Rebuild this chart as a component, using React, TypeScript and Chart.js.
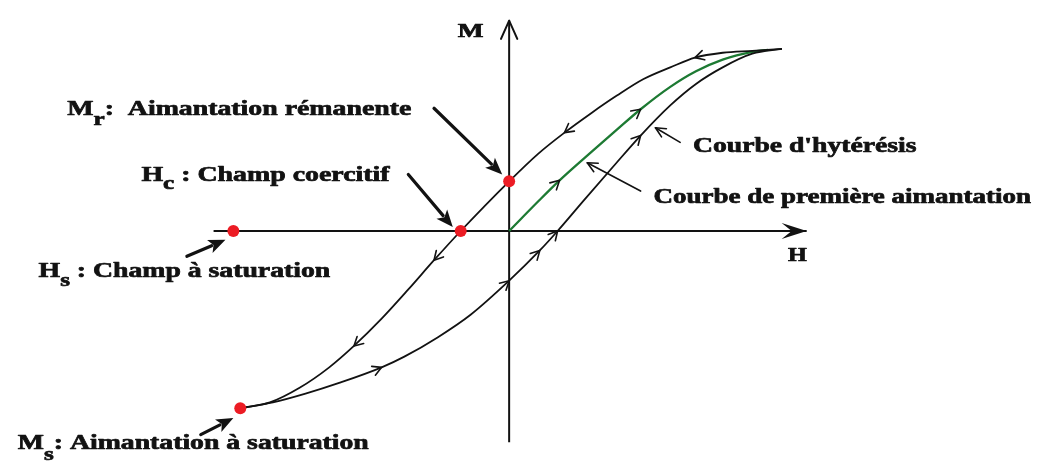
import React, { useEffect, useRef } from 'react';
import { Chart, registerables } from 'chart.js';
Chart.register(...registerables);

// Field H and magnetisation M, arbitrary units, origin where the axes cross
const UPPER_H = [-272, -242, -212, -182, -157, -129, -102, -76, -49, 0, 29, 56, 83, 109, 136, 163, 188, 216, 246, 276];
const UPPER_M = [-182, -176, -161, -140, -118, -90, -60, -30, 0, 51, 79, 101, 121, 139, 156, 168, 178, 183, 185, 187];
const LOWER_H = [-272, -239, -206, -172, -129, -106, -72, -39, 0, 31, 49, 76, 106, 133, 163, 189, 216, 246, 276];
const LOWER_M = [-182, -176, -167, -156, -140, -129, -109, -86, -51, -20, 0, 32, 67, 98, 129, 151, 168, 182, 187];
const FIRST_H = [0, 29, 51, 83, 109, 133, 163, 189, 216, 246, 262];
const FIRST_M = [0, 30, 52, 81, 104, 125, 148, 164, 176, 184, 186];
// Hs, Hc, Mr, Ms
const KEY_H = [-279, -49, 0, -272];
const KEY_M = [0, 0, 51, -182];
const AXIS_H_RANGE = [-299, 301];
const AXIS_M_RANGE = [-217, 216];
// where the small direction arrows sit on each curve (H values)
const UPPER_ARROWS_H = [188, 56, -76, -157];
const LOWER_ARROWS_H = [-129, 0, 31, 49, 133];
const FIRST_ARROWS_H = [51, 133];

const X_MIN = -509, X_MAX = 534, Y_MIN = -231, Y_MAX = 231;
const FONT = '"Liberation Serif", "Times New Roman", serif';
const INK = '#121212';
const RED = '#ec1c24';
const GREEN = '#1d7a33';

type Part = [string, number, number];
const LABELS: { h: number; m: number; endH: number; parts: Part[] }[] = [
  { h: -447, m: 119, endH: -99, parts: [['M', 21, 0], ['r', 19, 10], [':  Aimantation rémanente', 21, 0]] },
  { h: -372, m: 51, endH: -121, parts: [['H', 21, 0], ['c', 19, 8], [' : Champ coercitif', 21, 0]] },
  { h: -476, m: -47, endH: -181, parts: [['H', 21, 0], ['s', 19, 9], [' : Champ à saturation', 21, 0]] },
  { h: -497, m: -224, endH: -142, parts: [['M', 21, 0], ['s', 19, 11], [': Aimantation à saturation', 21, 0]] },
  { h: 186, m: 81, endH: 412, parts: [["Courbe d'hytérésis", 21, 0]] },
  { h: 146, m: 29, endH: 528, parts: [['Courbe de première aimantation', 21, 0]] },
  { h: -52, m: 199, endH: -26, parts: [['M', 19, 0]] },
  { h: 282, m: -31, endH: 301, parts: [['H', 19, 0]] },
];

const POINTERS = [
  { from: [-76, 126], to: [-7, 58], heavy: true },
  { from: [-102, 58], to: [-57, 4], heavy: true },
  { from: [-326, -26], to: [-287, -9], heavy: true },
  { from: [-312, -209], to: [-279, -192], heavy: true },
  { from: [173, 91], to: [148, 106], heavy: false },
  { from: [133, 41], to: [79, 70], heavy: false },
];

const pts = (hs: number[], ms: number[]) => hs.map((h, i) => ({ x: h, y: ms[i] }));

function chevron(ctx: CanvasRenderingContext2D, x: number, y: number, ang: number, len: number, spread: number) {
  ctx.beginPath();
  ctx.moveTo(x - len * Math.cos(ang - spread), y - len * Math.sin(ang - spread));
  ctx.lineTo(x, y);
  ctx.lineTo(x - len * Math.cos(ang + spread), y - len * Math.sin(ang + spread));
  ctx.stroke();
}

const decorPlugin = {
  id: 'decor',
  afterDatasetsDraw(chart: any) {
    const ctx: CanvasRenderingContext2D = chart.ctx;
    const sx = chart.scales.x, sy = chart.scales.y;
    const px = (h: number) => sx.getPixelForValue(h);
    const py = (m: number) => sy.getPixelForValue(m);
    ctx.save();
    ctx.lineCap = 'round';
    ctx.lineJoin = 'round';

    // direction arrows on curves
    const specs = [
      { ds: 1, hs: UPPER_ARROWS_H, dir: -1, color: INK },
      { ds: 2, hs: LOWER_ARROWS_H, dir: 1, color: INK },
      { ds: 3, hs: FIRST_ARROWS_H, dir: 1, color: INK },
    ];
    for (const s of specs) {
      const meta = chart.getDatasetMeta(s.ds);
      const data = chart.data.datasets[s.ds].data as { x: number; y: number }[];
      for (const h of s.hs) {
        const j = data.findIndex((d) => d.x === h);
        if (j < 0) continue;
        const el: any = meta.data[j];
        let dx: number, dy: number;
        if (el.cp1x !== undefined && el.cp2x !== undefined) {
          dx = el.cp2x - el.cp1x; dy = el.cp2y - el.cp1y;
        } else {
          const a: any = meta.data[Math.max(0, j - 1)], b: any = meta.data[Math.min(meta.data.length - 1, j + 1)];
          dx = b.x - a.x; dy = b.y - a.y;
        }
        const ang = Math.atan2(dy * s.dir, dx * s.dir);
        ctx.strokeStyle = s.color;
        ctx.lineWidth = 1.6;
        chevron(ctx, el.x, el.y, ang, 10, 0.5);
      }
    }

    // axis arrowheads
    ctx.strokeStyle = INK;
    ctx.fillStyle = INK;
    ctx.lineWidth = 2;
    const mx = px(0), my = py(AXIS_M_RANGE[1]);
    chevron(ctx, mx, my, -Math.PI / 2, 20, 0.42);
    const hx = px(AXIS_H_RANGE[1]), hy = py(0);
    ctx.beginPath();
    ctx.moveTo(hx, hy);
    ctx.lineTo(hx - 25, hy - 8);
    ctx.lineTo(hx - 15, hy);
    ctx.lineTo(hx - 25, hy + 8);
    ctx.closePath();
    ctx.fill();

    // pointer arrows
    for (const p of POINTERS) {
      const x1 = px(p.from[0]), y1 = py(p.from[1]);
      const x2 = px(p.to[0]), y2 = py(p.to[1]);
      const ang = Math.atan2(y2 - y1, x2 - x1);
      if (p.heavy) {
        const hl = 17, hw = 7;
        const bx = x2 - hl * Math.cos(ang), by = y2 - hl * Math.sin(ang);
        ctx.lineWidth = 3.2;
        ctx.beginPath();
        ctx.moveTo(x1, y1);
        ctx.lineTo(bx + 2 * Math.cos(ang), by + 2 * Math.sin(ang));
        ctx.stroke();
        ctx.beginPath();
        ctx.moveTo(x2, y2);
        ctx.lineTo(bx + hw * Math.sin(ang), by - hw * Math.cos(ang));
        ctx.lineTo(bx + 4 * Math.cos(ang), by + 4 * Math.sin(ang));
        ctx.lineTo(bx - hw * Math.sin(ang), by + hw * Math.cos(ang));
        ctx.closePath();
        ctx.fill();
      } else {
        ctx.lineWidth = 1.6;
        ctx.beginPath();
        ctx.moveTo(x1, y1);
        ctx.lineTo(x2, y2);
        ctx.stroke();
        chevron(ctx, x2, y2, ang, 11, 0.45);
      }
    }

    // text labels (bold serif, stretched horizontally to the reference width)
    ctx.fillStyle = INK;
    ctx.strokeStyle = INK;
    ctx.textBaseline = 'alphabetic';
    ctx.textAlign = 'left';
    for (const l of LABELS) {
      let natural = 0;
      for (const [t, size] of l.parts) {
        ctx.font = `bold ${size}px ${FONT}`;
        natural += ctx.measureText(t).width;
      }
      const x0 = px(l.h), x1 = px(l.endH), y0 = py(l.m);
      const k = (x1 - x0) / natural;
      ctx.save();
      ctx.translate(x0, y0);
      ctx.scale(k, 1);
      ctx.lineWidth = 0.7;
      let cx = 0;
      for (const [t, size, dy] of l.parts) {
        ctx.font = `bold ${size}px ${FONT}`;
        ctx.fillText(t, cx, dy);
        ctx.strokeText(t, cx, dy);
        cx += ctx.measureText(t).width;
      }
      ctx.restore();
    }
    ctx.restore();
  },
};

export default function App() {
  const ref = useRef<HTMLCanvasElement>(null);
  useEffect(() => {
    if (!ref.current) return;
    const curve = (data: any, color: string, width: number) => ({
      data,
      showLine: true,
      borderColor: color,
      borderWidth: width,
      pointRadius: 0,
      pointHoverRadius: 0,
      cubicInterpolationMode: 'monotone' as const,
      fill: false,
    });
    const chart = new Chart(ref.current, {
      type: 'scatter',
      data: {
        datasets: [
          {
            label: 'Points',
            data: pts(KEY_H, KEY_M),
            pointRadius: 6,
            pointBackgroundColor: RED,
            pointBorderWidth: 0,
            showLine: false,
          },
          { label: 'Branche descendante', ...curve(pts(UPPER_H, UPPER_M), INK, 1.8) },
          { label: 'Branche ascendante', ...curve(pts(LOWER_H, LOWER_M), INK, 1.8) },
          { label: 'Première aimantation', ...curve(pts(FIRST_H, FIRST_M), GREEN, 2.3) },
          { label: 'Axe H', ...curve(pts(AXIS_H_RANGE, [0, 0]), INK, 2) },
          { label: 'Axe M', ...curve(pts([0, 0], AXIS_M_RANGE), INK, 2) },
        ] as any,
      },
      options: {
        responsive: false,
        maintainAspectRatio: false,
        animation: false,
        events: [],
        layout: { padding: 0 },
        plugins: { legend: { display: false }, tooltip: { enabled: false }, title: { display: false } },
        scales: {
          x: { type: 'linear', min: X_MIN, max: X_MAX, display: false },
          y: { type: 'linear', min: Y_MIN, max: Y_MAX, display: false },
        },
      },
      plugins: [decorPlugin],
    });
    return () => chart.destroy();
  }, []);
  return (
    <div style={{ position: 'absolute', left: 0, top: 0, width: 1043, height: 462, background: '#fff' }}>
      <canvas ref={ref} width={1043} height={462} style={{ display: 'block' }} />
    </div>
  );
}
